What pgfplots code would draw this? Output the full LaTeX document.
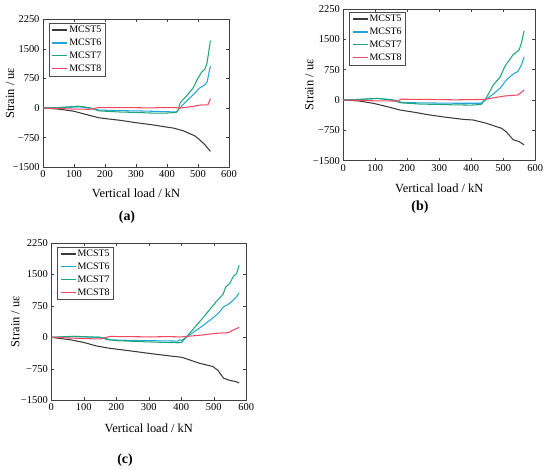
\documentclass[border=0pt]{standalone}
\usepackage{pgfplots}
\pgfplotsset{compat=1.18}
\usepackage{fontspec}
\setmainfont{Liberation Serif}
\definecolor{cK}{HTML}{3A3A3A}
\definecolor{cB}{HTML}{22A6DA}
\definecolor{cG}{HTML}{1FA676}
\definecolor{cR}{HTML}{F04862}
\pgfplotsset{
  myax/.style={
    scale only axis, anchor=south west,
    xmin=0, xmax=600, ymin=-1500, ymax=2250,
    xtick={0,100,...,600},
    ytick={-1500,-750,0,750,1500,2250},
    yticklabels={−1500,−750,0,750,1500,2250},
    /pgf/number format/assume math mode=true,
    tick align=inside, major tick length=3bp,
    axis line style={black!75, line width=0.6bp},
    every tick/.style={black!75, line width=0.5bp},
    tick label style={font=\fontsize{10.5}{12}\selectfont},
    label style={font=\fontsize{12.5}{14}\selectfont},
    xlabel={Vertical load / kN}, ylabel={Strain / uε},
    legend style={draw=black!70, line width=0.5bp, at={(axis description cs:0,1)}, anchor=north west,
      font=\fontsize{10}{11}\selectfont, inner xsep=2.5bp, inner ysep=1.8bp,
      nodes={inner sep=1.3bp}, row sep=2.2bp,
      cells={anchor=west}},
    legend image code/.code={\draw[##1, line width=1.2bp] (0bp,0bp) -- (15bp,0bp);},
    every axis plot/.append style={line width=1.05bp, no marks},
  }
}
\begin{document}
\begin{tikzpicture}
\path[use as bounding box] (0,0) rectangle (550bp,-470bp);
% (a)
\begin{axis}[myax, at={(43bp,-167.3bp)}, width=186bp, height=148bp,
  x label style={at={(axis description cs:0.5,-0.176)}, anchor=center},
  y label style={at={(axis description cs:-0.177,0.5)}, anchor=center},
  legend style={xshift=6bp, yshift=-3.4bp}]
\addplot[cK] coordinates {(0,0) (50,-25) (100,-80) (140,-165) (180,-245) (200,-265) (250,-310) (300,-370) (350,-420) (398,-480) (420,-505) (452,-573) (489,-700) (505,-800) (522,-927) (540,-1096)};
\addplot[cB] coordinates {(0,0) (50,10) (100,25) (120,30) (150,0) (180,-50) (250,-65) (300,-70) (350,-80) (400,-90) (430,-100) (441,0) (462,169) (484,337) (505,506) (522,590) (530,674) (535,885) (540,1071)};
\addplot[cG] coordinates {(0,0) (50,15) (100,40) (115,50) (150,10) (180,-70) (250,-100) (300,-110) (350,-125) (400,-125) (430,-110) (436,-50) (443,143) (462,295) (484,506) (500,759) (511,902) (522,986) (529,1138) (534,1391) (540,1711)};
\addplot[cR] coordinates {(0,0) (50,-10) (100,-25) (150,-30) (180,15) (250,10) (300,10) (350,5) (390,15) (430,10) (441,0) (460,20) (484,42) (505,76) (520,84) (532,84) (540,236)};
\legend{MCST5,MCST6,MCST7,MCST8}
\end{axis}
% (b)
\begin{axis}[myax, at={(343.3bp,-160.7bp)}, width=192bp, height=151.7bp,
  x label style={at={(axis description cs:0.5,-0.182)}, anchor=center},
  y label style={at={(axis description cs:-0.177,0.5)}, anchor=center},
  legend style={xshift=6bp, yshift=-2.7bp}]
\addplot[cK] coordinates {(0,0) (50,-25) (94,-82) (140,-170) (177,-247) (220,-300) (271,-371) (320,-425) (375,-478) (406,-494) (448,-577) (479,-659) (495,-700) (510,-792) (531,-983) (549,-1025) (565,-1108)};
\addplot[cB] coordinates {(0,0) (50,15) (100,35) (110,40) (150,10) (175,-20) (180,-60) (240,-70) (300,-75) (350,-80) (400,-80) (430,-80) (443,0) (469,150) (490,292) (510,500) (531,642) (546,708) (557,875) (565,1067)};
\addplot[cG] coordinates {(0,0) (50,15) (105,40) (150,0) (180,-70) (240,-100) (300,-110) (350,-120) (400,-125) (430,-110) (443,0) (469,375) (490,567) (505,833) (531,1125) (549,1233) (557,1417) (565,1708)};
\addplot[cR] coordinates {(0,0) (50,-10) (100,-20) (170,-25) (180,20) (250,15) (350,5) (400,10) (443,17) (479,67) (505,100) (546,125) (565,250)};
\legend{MCST5,MCST6,MCST7,MCST8}
\end{axis}
% (c)
\begin{axis}[myax, at={(51.3bp,-400.3bp)}, width=195bp, height=157.5bp,
  x label style={at={(axis description cs:0.5,-0.178)}, anchor=center},
  y label style={at={(axis description cs:-0.185,0.5)}, anchor=center},
  legend style={xshift=6bp, yshift=-3.7bp}]
\addplot[cK] coordinates {(0,0) (62,-63) (98,-119) (139,-206) (180,-262) (240,-320) (299,-381) (350,-430) (402,-476) (455,-616) (497,-695) (513,-790) (530,-972) (549,-1027) (565,-1050) (570,-1060) (578,-1090)};
\addplot[cB] coordinates {(0,0) (70,15) (150,0) (170,-30) (180,-60) (250,-75) (300,-80) (390,-90) (395,-60) (400,-80) (415,0) (465,270) (502,490) (518,608) (530,727) (544,782) (560,885) (570,964) (578,1066)};
\addplot[cG] coordinates {(0,0) (70,25) (150,0) (170,-50) (200,-80) (300,-110) (390,-130) (400,-126) (415,0) (465,450) (507,845) (528,1019) (537,1200) (549,1280) (560,1450) (570,1517) (578,1714)};
\addplot[cR] coordinates {(0,0) (100,-30) (150,-40) (180,20) (250,15) (300,10) (360,16) (400,10) (465,55) (507,95) (544,110) (560,174) (578,237)};
\legend{MCST5,MCST6,MCST7,MCST8}
\end{axis}
\node[font=\fontsize{14}{16}\selectfont\bfseries] at (127bp,-216.7bp) {(a)};
\node[font=\fontsize{14}{16}\selectfont\bfseries] at (420bp,-207bp) {(b)};
\node[font=\fontsize{14}{16}\selectfont\bfseries] at (125bp,-460bp) {(c)};
\end{tikzpicture}
\end{document}
